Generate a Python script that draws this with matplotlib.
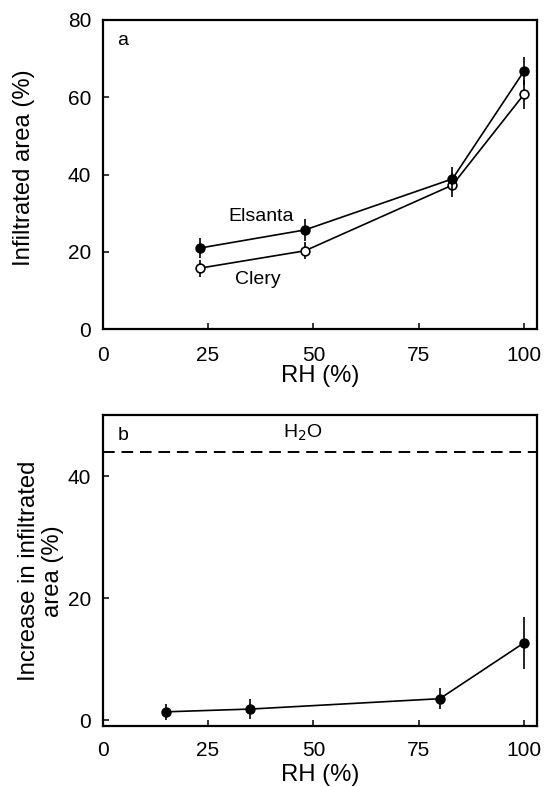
import matplotlib
matplotlib.use("Agg")
import matplotlib.pyplot as plt

plt.rcParams['font.family'] = ['Liberation Sans', 'DejaVu Sans']

# Panel a: infiltrated area for two cultivars
rh_a = [23, 48, 83, 100]
elsanta = [21.0, 25.7, 38.9, 66.8]
elsanta_err = [2.6, 2.8, 3.2, 3.5]
clery = [15.8, 20.3, 37.3, 60.8]
clery_err = [2.2, 2.2, 3.0, 3.8]

# Panel b: increase in infiltrated area
rh_b = [15, 35, 80, 100]
increase = [1.4, 1.85, 3.55, 12.7]
increase_err = [1.35, 1.7, 1.75, 4.3]
h2o_level = 44.0

x_ticks = [0, 25, 50, 75, 100]

fig = plt.figure(figsize=(5.44, 7.87), dpi=100)
ax1 = fig.add_axes([0.1888, 0.5816, 0.7978, 0.3930])
ax2 = fig.add_axes([0.1888, 0.0769, 0.7978, 0.3958])

line_kw = dict(color='black', lw=1.2, ms=6.3, elinewidth=1.2, capsize=0,
               markeredgewidth=1.2, markeredgecolor='black')

ax1.errorbar(rh_a, clery, yerr=clery_err, fmt='-o', mfc='white', zorder=3, **line_kw)
ax1.errorbar(rh_a, elsanta, yerr=elsanta_err, fmt='-o', mfc='black', zorder=4, **line_kw)
ax1.set_xlim(0, 103)
ax1.set_ylim(0, 80)
ax1.set_yticks([0, 20, 40, 60, 80])
ax1.text(37.7, 29.1, 'Elsanta', ha='center', va='center', fontsize=14)
ax1.text(36.8, 12.9, 'Clery', ha='center', va='center', fontsize=14)
ax1.text(4.75, 74.6, 'a', ha='center', va='center', fontsize=14)
ax1.set_ylabel('Infiltrated area (%)', fontsize=17.2, va='center')

ax2.errorbar(rh_b, increase, yerr=increase_err, fmt='-o', mfc='black', zorder=4, **line_kw)
ax2.axhline(h2o_level, color='black', lw=1.4, ls=(0, (6, 3.5)))
ax2.set_xlim(0, 103)
ax2.set_ylim(-1, 50)
ax2.set_yticks([0, 20, 40])
ax2.text(4.75, 46.6, 'b', ha='center', va='center', fontsize=14)
ax2.text(47.4, 47.0, 'H$_2$O', ha='center', va='center', fontsize=14)
ax2.set_ylabel('Increase in infiltrated\narea (%)', fontsize=17.2, linespacing=1.1,
               va='center')

for ax in (ax1, ax2):
    ax.set_xticks(x_ticks)
    ax.tick_params(direction='in', length=4, width=1.1, labelsize=15)
    ax.tick_params(axis='y', pad=8.3)
    for s in ax.spines.values():
        s.set_linewidth(1.6)

ax1.tick_params(axis='x', pad=11.8)
ax2.tick_params(axis='x', pad=10.4)
ax1.set_xlabel('RH (%)', fontsize=17.2, labelpad=0)
ax2.set_xlabel('RH (%)', fontsize=17.2, labelpad=3)

ax1.yaxis.set_label_coords(-0.181, 0.521)
ax2.yaxis.set_label_coords(-0.142, 0.5)

fig.savefig('out.png', dpi=100)
